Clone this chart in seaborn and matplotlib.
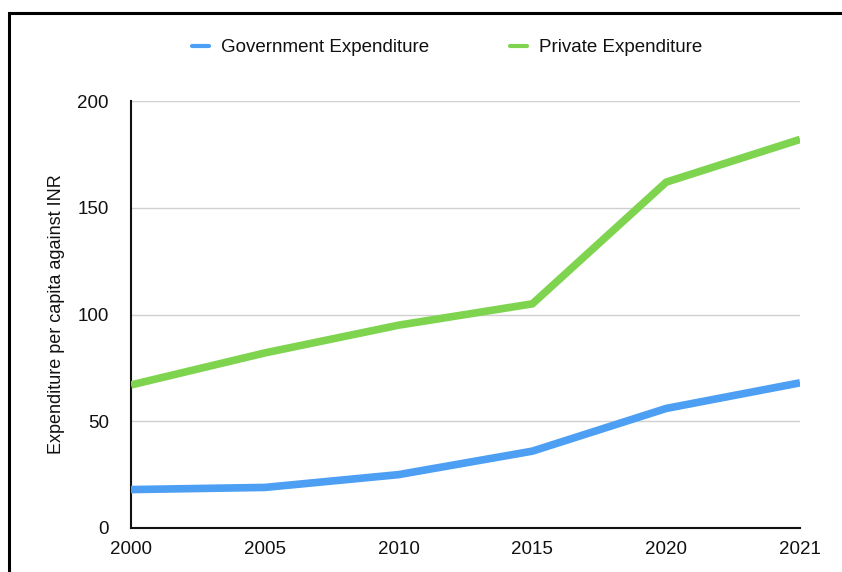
import matplotlib
matplotlib.use("Agg")
import matplotlib.pyplot as plt
from matplotlib.lines import Line2D
from matplotlib.patches import Rectangle
import pandas as pd
import seaborn as sns

# Per-capita health expenditure (INR)
years = ["2000", "2005", "2010", "2015", "2020", "2021"]
government = [18, 19, 25, 36, 56, 68]
private = [67, 82, 95, 105, 162, 182]
series_names = ["Government Expenditure", "Private Expenditure"]
y_ticks = [0, 50, 100, 150, 200]

palette = {"Government Expenditure": "#4C9FF3", "Private Expenditure": "#7ED44F"}

df = pd.DataFrame({
    "year": years * 2,
    "value": government + private,
    "series": [series_names[0]] * len(years) + [series_names[1]] * len(years),
})
df["pos"] = df["year"].map({y: i for i, y in enumerate(years)})

sns.set_theme(style="white")
plt.rcParams["font.family"] = ["Liberation Sans", "DejaVu Sans"]

fig = plt.figure(figsize=(8.42, 5.72), dpi=100)
ax = fig.add_axes([131 / 842, 1 - 528 / 572, (800 - 131) / 842, (528 - 101) / 572])

sns.lineplot(data=df, x="pos", y="value", hue="series", palette=palette,
             linewidth=5.5, ax=ax, legend=False, solid_capstyle="butt", zorder=3)

ax.set_xlim(0, len(years) - 1)
ax.set_ylim(0, 200)
ax.set_xticks(range(len(years)))
ax.set_xticklabels(years)
ax.set_yticks(y_ticks)
ax.set_yticklabels([str(t) for t in y_ticks])
ax.tick_params(axis="both", length=0, labelsize=13.5, colors="#111111")
ax.tick_params(axis="y", pad=16)
ax.tick_params(axis="x", pad=9)
ax.set_xlabel("")
ax.set_ylabel("Expenditure per capita against INR", fontsize=13, color="#111111", labelpad=9)

ax.yaxis.grid(True, color="#d0d0d0", linewidth=1)
ax.xaxis.grid(False)
for side in ("top", "right"):
    ax.spines[side].set_visible(False)
for side in ("left", "bottom"):
    ax.spines[side].set_color("#111111")
    ax.spines[side].set_linewidth(1.5)

handles = [Line2D([0], [0], color=palette[n], linewidth=3) for n in series_names]
fig.legend(handles, series_names, loc="center", bbox_to_anchor=(0.531, 1 - 47.5 / 572),
           ncol=2, frameon=False, fontsize=13.5, handlelength=0.9, handletextpad=0.65,
           columnspacing=4.3, labelcolor="#111111")

# Outer frame
fig.patches.append(Rectangle((8.5 / 842, -0.1), 1.2, (1 - 12.5 / 572) + 0.1,
                             transform=fig.transFigure, fill=False,
                             edgecolor="black", linewidth=2.2, zorder=10))

fig.savefig("out.png", dpi=100)
